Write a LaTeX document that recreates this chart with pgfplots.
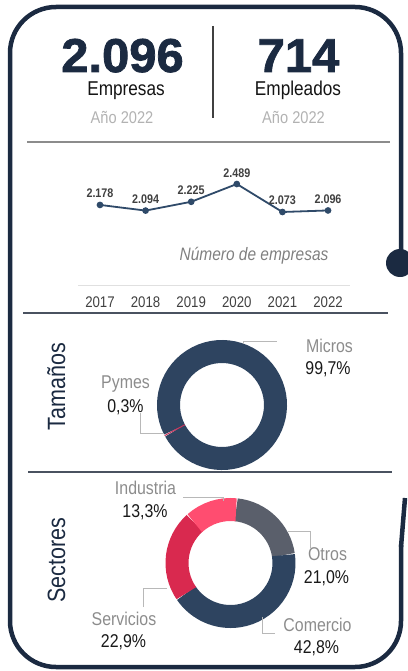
\documentclass[border=0pt]{standalone}
\usepackage{fontspec}
\setmainfont{Liberation Sans}
\newfontfamily\nf[FakeStretch=0.86]{Liberation Sans}
\newfontfamily\wf[FakeStretch=1.03,FakeBold=1.6]{Liberation Sans}
\usepackage{pgfplots}
\usepackage{pgfplotstable}
\pgfplotsset{compat=1.18}

\definecolor{navy}{HTML}{1B2A41}
\definecolor{ring}{HTML}{2E4460}
\definecolor{linec}{HTML}{2F4A69}
\definecolor{otros}{HTML}{5A5F6B}
\definecolor{serv}{HTML}{D9294F}
\definecolor{indu}{HTML}{FF4D70}
\definecolor{pym}{HTML}{C8325A}
\definecolor{lab}{HTML}{8C8C8C}
\definecolor{lead}{HTML}{B8B8B8}
\definecolor{sep}{HTML}{4A5260}

% numero de empresas por ano
\pgfplotstableread{
year value label
2017 2178 2.178
2018 2094 2.094
2019 2225 2.225
2020 2489 2.489
2021 2073 2.073
2022 2096 2.096
}\empresas

% shares in percent
\def\pMicros{99.7}
\def\pPymes{0.3}
\def\pOtros{21.0}
\def\pComercio{42.8}
\def\pServicios{22.9}
\def\pIndustria{13.3}

% cumulative angles, clockwise
\pgfmathsetmacro\tA{207.5}
\pgfmathsetmacro\tB{\tA-3.6*\pMicros}
\pgfmathsetmacro\tC{\tB-3.6*\pPymes}
\pgfmathsetmacro\sA{84}
\pgfmathsetmacro\sB{\sA-3.6*\pOtros}
\pgfmathsetmacro\sC{\sB-3.6*\pComercio}
\pgfmathsetmacro\sD{\sC-3.6*\pServicios}
\pgfmathsetmacro\sE{\sD-3.6*\pIndustria}

% donut segment: cx, cy, from, to, colour
\newcommand\seg[5]{%
  \draw[line width=23pt,#5] (axis cs:{#1+53.5*cos(#3)},{#2-53.5*sin(#3)})
    arc[start angle=#3,end angle=#4,radius=53.5pt];}

\tikzset{
  lbl/.style={anchor=base,text=lab,font=\nf\fontsize{18.5}{20}\selectfont},
  pct/.style={anchor=base,text=black!90,font=\nf\fontsize{18.5}{20}\selectfont},
  ld/.style={draw=lead,line width=0.9pt},
}

\begin{document}
\begin{tikzpicture}
\useasboundingbox (0,0) rectangle (407pt,671pt);

\begin{axis}[
  at={(0pt,0pt)}, anchor=south west,
  width=407pt, height=671pt, scale only axis,
  xmin=0, xmax=407, ymin=0, ymax=671, y dir=reverse,
  hide axis, clip=false,
]
% card border
\draw[navy,line width=4.5pt,rounded corners=46pt]
  (axis cs:401,545) -- (axis cs:401,667) -- (axis cs:10,667)
  -- (axis cs:10,7) -- (axis cs:401,7) -- (axis cs:401,262);
\draw[navy,line width=4.5pt] (axis cs:405,498) -- (axis cs:401,547);
\fill[navy] (axis cs:400,263) circle[radius=14pt];

% header
\node[anchor=base,text=navy,font=\wf\bfseries\fontsize{47.5}{50}\selectfont] at (axis cs:122.5,72) {2.096};
\node[anchor=base,text=navy,font=\wf\bfseries\fontsize{47.5}{50}\selectfont] at (axis cs:298.5,72) {714};
\node[anchor=base,text=black!92,font=\nf\fontsize{20}{22}\selectfont] at (axis cs:126,96) {Empresas};
\node[anchor=base,text=black!92,font=\nf\fontsize{20}{22}\selectfont] at (axis cs:298,96) {Empleados};
\node[anchor=base,text=black!30,font=\nf\fontsize{17}{19}\selectfont] at (axis cs:122,124) {Año 2022};
\node[anchor=base,text=black!30,font=\nf\fontsize{17}{19}\selectfont] at (axis cs:293.5,124) {Año 2022};
\draw[black!75,line width=1.2pt] (axis cs:213,26) -- (axis cs:213,118);

% separators
\draw[black!45,line width=1.5pt] (axis cs:27,142) -- (axis cs:390,142);
\draw[sep,line width=1.5pt] (axis cs:23,313) -- (axis cs:388,313);
\draw[sep,line width=1.5pt] (axis cs:28,472) -- (axis cs:392,472);

\node[anchor=base,text=black!50,font=\nf\itshape\fontsize{18}{20}\selectfont] at (axis cs:254,260) {Número de empresas};

% Tamanos
\node[rotate=90,anchor=base,text=navy,font=\nf\fontsize{25}{27}\selectfont] at (axis cs:65,386.5) {Tamaños};
\seg{222}{405}{\tA}{\tB}{ring}
\seg{222}{405}{\tB}{\tC}{pym}
\draw[ld] (axis cs:243,344) -- (axis cs:243,341) -- (axis cs:277,341);
\draw[ld] (axis cs:140,413) -- (axis cs:140,433) -- (axis cs:164,433);
\node[lbl] at (axis cs:329.5,352) {Micros};
\node[pct] at (axis cs:328,374) {99,7\%};
\node[lbl] at (axis cs:125.5,388) {Pymes};
\node[pct] at (axis cs:125.5,412) {0,3\%};

% Sectores
\node[rotate=90,anchor=base,text=navy,font=\nf\fontsize{25}{27}\selectfont] at (axis cs:65,560) {Sectores};
\seg{230.5}{563}{\sA}{\sB}{otros}
\seg{230.5}{563}{\sB}{\sC}{ring}
\seg{230.5}{563}{\sC}{\sD}{serv}
\seg{230.5}{563}{\sD}{\sE}{indu}
\draw[ld] (axis cs:183,497) -- (axis cs:223,497) -- (axis cs:223,501);
\draw[ld] (axis cs:288,531) -- (axis cs:310,531) -- (axis cs:310,548);
\draw[ld] (axis cs:262,617) -- (axis cs:262,633) -- (axis cs:275,633);
\draw[ld] (axis cs:143,607) -- (axis cs:143,588) -- (axis cs:167,588);
\node[lbl] at (axis cs:145.5,494) {Industria};
\node[pct] at (axis cs:145,517) {13,3\%};
\node[lbl] at (axis cs:327.5,560) {Otros};
\node[pct] at (axis cs:326.5,583) {21,0\%};
\node[lbl] at (axis cs:317.5,631) {Comercio};
\node[pct] at (axis cs:316.5,653) {42,8\%};
\node[lbl] at (axis cs:124,625) {Servicios};
\node[pct] at (axis cs:123.5,647) {22,9\%};
\end{axis}

% line chart
\begin{axis}[
  at={(78pt,386pt)}, anchor=south west,
  width=272pt, height=125pt, scale only axis,
  xmin=2016.518, xmax=2022.482, ymin=988, ymax=2846,
  axis x line*=bottom, hide y axis,
  x axis line style={draw=black!12,line width=0.8pt,-},
  xtick={2017,2018,2019,2020,2021,2022},
  xticklabels={2017,2018,2019,2020,2021,2022},
  major tick length=0pt,
  xticklabel style={anchor=base,yshift=-23pt,text=black!75,
    font=\nf\fontsize{15.4}{17}\selectfont},
  clip=false,
]
\addplot[linec,line width=1.8pt,mark=*,mark size=2.4pt,
  mark options={fill=linec,draw=linec},
  nodes near coords, point meta=explicit symbolic,
  every node near coord/.append style={anchor=base,yshift=7pt,
    text=black!75,font=\nf\bfseries\fontsize{12.5}{14}\selectfont}]
  table[x=year,y=value,meta=label]{\empresas};
\end{axis}
\end{tikzpicture}
\end{document}
